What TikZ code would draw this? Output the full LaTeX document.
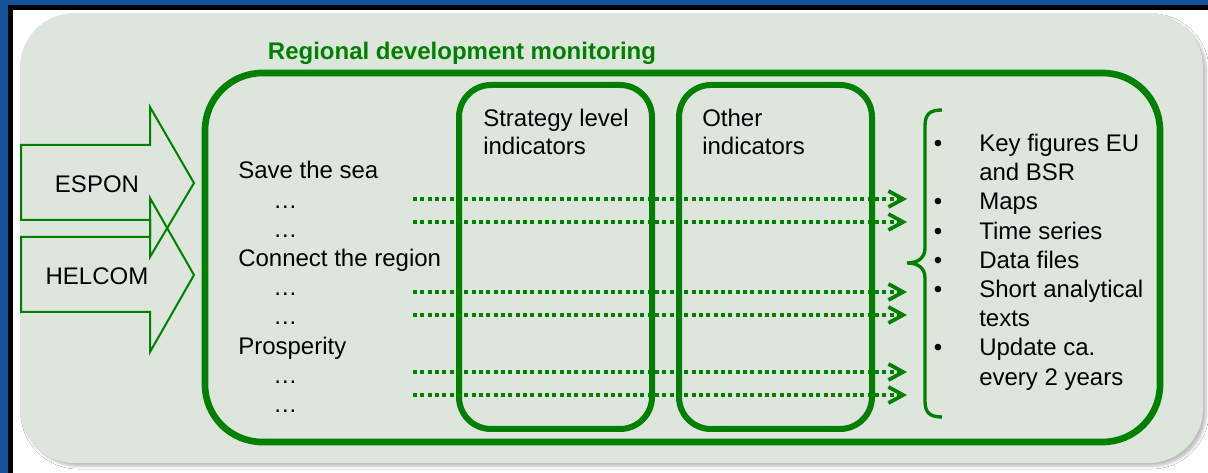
\documentclass[tikz,border=0pt]{standalone}
\usepackage{fontspec}
\setmainfont{Liberation Sans}
\usetikzlibrary{arrows.meta,shadows.blur}
\definecolor{rdgreen}{RGB}{0,128,0}
\definecolor{rdback}{RGB}{221,229,221}
\definecolor{rdblue}{RGB}{17,83,150}
\begin{document}
\begin{tikzpicture}[x=0.75pt,y=-0.75pt,
	txt/.style={font=\fontsize{18}{21}\selectfont,inner sep=0pt},
	box/.style={draw=rdgreen,line width=4.5pt,rounded corners=24pt},
	flow/.style={draw=rdgreen,line width=3pt,dash pattern=on 3pt off 2.5pt,
		-{Straight Barb[length=11pt,width=12pt,line width=2.8pt]}},
	blockarrow/.style={draw=rdgreen,line width=1.5pt}]
	\useasboundingbox (0,0) rectangle (1208,473);
	\fill[white] (0,0) rectangle (1208,473);
	% frame
	\fill[rdblue] (0,0) rectangle (1208,5);
	\fill[rdblue] (0,0) rectangle (8,473);
	\fill[black] (8,5) rectangle (1208,10);
	\fill[black] (8,5) rectangle (13,473);
	% panel
	\fill[rdback,rounded corners=41pt,blur shadow={shadow xshift=2.5pt,shadow yshift=-2.5pt,shadow blur radius=2pt,shadow opacity=25}] (20,13) rectangle (1203,463);
	\node[txt,anchor=base,text=rdgreen,font=\fontsize{18}{21}\selectfont\bfseries] (title) at (462,60) {Regional development monitoring};
	\draw[box,line width=5pt,rounded corners=43pt] (205,73) rectangle (1160,442);
	\draw[box] (459,85) rectangle (652,429);
	\draw[box] (679,85) rectangle (872,429);
	\node[txt,anchor=north west,align=left] (strat) at (483,109) {Strategy level\\indicators};
	\node[txt,anchor=north west,align=left] (other) at (702,109) {Other\\indicators};
	% inputs
	\draw[blockarrow] (21,145)--(150,145)--(150,107)--(194,183)--(150,257)--(150,220)--(21,220)--cycle;
	\draw[blockarrow] (21,237)--(150,237)--(150,198)--(194,275)--(150,352)--(150,312)--(21,312)--cycle;
	\node[txt,anchor=base] (espon) at (97,193) {ESPON};
	\node[txt,anchor=base] (helcom) at (97,285) {HELCOM};
	% goals
	\foreach \xx/\txt [count=\i] in {238/Save the sea,273/…,273/…,238/Connect the region,273/…,273/…,238/Prosperity,273/…,273/…}
		\node[txt,anchor=base west] (g\i) at (\xx,179+29.2*\i-29.2) {\txt};
	\foreach \yy [count=\i] in {199,222,292,315,372,395}{
		\coordinate (s\i) at (413,\yy);
		\coordinate (e\i) at (907,\yy);
		\draw[flow] (s\i)--(e\i);
	}
	% outputs
	\draw[rdgreen,line width=2.5pt] (942,110) .. controls (930,110) and (925,114) .. (925,126) -- (925,248) .. controls (925,258) and (918,263) .. (907,263) .. controls (918,263) and (925,268) .. (925,278) -- (925,401) .. controls (925,413) and (930,417) .. (942,417);
	\foreach \txt [count=\i] in {Key figures EU,and BSR,Maps,Time series,Data files,Short analytical,texts,Update ca.,every 2 years}
		\node[txt,anchor=base west] (o\i) at (979,151.5+29.2*\i-29.2) {\txt};
	\foreach \i in {1,3,4,5,6,8}
		\node[txt,anchor=base] (b\i) at (938,151.5+29.2*\i-29.2) {•};
\end{tikzpicture}
\end{document}
